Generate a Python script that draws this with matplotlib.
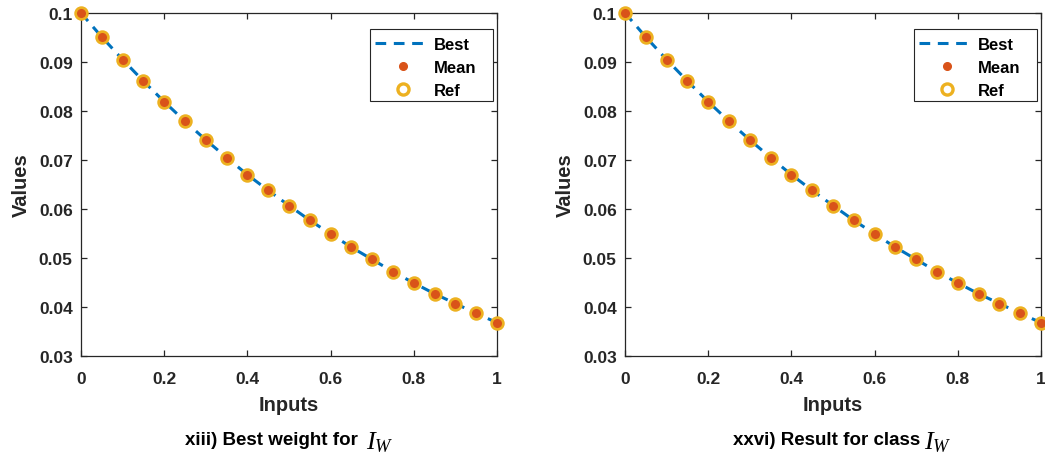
import matplotlib
matplotlib.use("Agg")
import matplotlib.pyplot as plt
from matplotlib.patches import Rectangle

plt.rcParams['font.family'] = ['Liberation Sans', 'DejaVu Sans']
plt.rcParams['mathtext.fontset'] = 'custom'
plt.rcParams['mathtext.it'] = 'Liberation Serif:italic'
plt.rcParams['mathtext.rm'] = 'Liberation Serif'

inputs = [0.0, 0.05, 0.1, 0.15, 0.2, 0.25, 0.3, 0.35, 0.4, 0.45, 0.5,
          0.55, 0.6, 0.65, 0.7, 0.75, 0.8, 0.85, 0.9, 0.95, 1.0]
best = [0.1, 0.0951, 0.0905, 0.0861, 0.0819, 0.0779, 0.0741, 0.0705, 0.0670, 0.0638, 0.0607,
        0.0577, 0.0549, 0.0522, 0.0497, 0.0472, 0.0449, 0.0427, 0.0407, 0.0387, 0.0368]
mean = list(best)
ref = list(best)

captions = ["xiii) Best weight for", "xxvi) Result for class"]
xticks = [0, 0.2, 0.4, 0.6, 0.8, 1]
xticklabels = ['0', '0.2', '0.4', '0.6', '0.8', '1']
yticks = [0.03, 0.04, 0.05, 0.06, 0.07, 0.08, 0.09, 0.1]
yticklabels = ['0.03', '0.04', '0.05', '0.06', '0.07', '0.08', '0.09', '0.1']

fig = plt.figure(figsize=(10.45, 4.6), dpi=100)
dark = '#262626'
W, H = 1045, 460

lefts = [81, 625]
cap_x = [185, 733]
cap_gap = [6, 3]

for i in range(2):
    left = lefts[i] / W
    ax = fig.add_axes([left, 1 - 357 / H, 416 / W, 343 / H])
    ax.plot(inputs, best, '--', color='#0072BD', lw=2.2, dashes=(3.5, 2.5), label='Best', zorder=2)
    ax.plot(inputs, mean, 'o', color='#D95319', ms=5.5, label='Mean', zorder=4, clip_on=False)
    ax.plot(inputs, ref, 'o', mfc='none', mec='#EDB120', mew=2.4, ms=8, label='Ref',
            zorder=3, clip_on=False)
    ax.set_xlim(0, 1)
    ax.set_ylim(0.03, 0.1)
    ax.set_xticks(xticks)
    ax.set_xticklabels(xticklabels, fontweight='bold')
    ax.set_yticks(yticks)
    ax.set_yticklabels(yticklabels, fontweight='bold')
    ax.tick_params(direction='in', top=True, right=True, labelsize=12.5, colors=dark,
                   length=4, width=0.9)
    ax.tick_params(axis='x', pad=11)
    ax.tick_params(axis='y', pad=6)
    for s in ax.spines.values():
        s.set_color(dark)
        s.set_linewidth(0.9)
    ax.set_xlabel('Inputs', fontsize=14.5, fontweight='bold', color=dark, labelpad=6)
    ax.set_ylabel('Values', fontsize=14.5, fontweight='bold', color=dark, labelpad=6)

    # legend box drawn like matlab's: tight on the left, loose on the right
    ax.add_patch(Rectangle(((lefts[i] + 289) / W, 1 - 102 / H), 123 / W, 72 / H,
                           transform=fig.transFigure, facecolor='white', edgecolor=dark,
                           lw=0.8, zorder=5, clip_on=False))
    leg = ax.legend(loc='upper left', bbox_to_anchor=((lefts[i] + 294) / W, 1 - 37.5 / H),
                    bbox_transform=fig.transFigure, borderaxespad=0, borderpad=0,
                    prop={'size': 12, 'weight': 'bold'}, frameon=False,
                    handlelength=3.3, labelspacing=0.5, handletextpad=0.25)
    leg.set_zorder(6)

    t = fig.text(cap_x[i] / W, 1 - 445 / H, captions[i], ha='left', va='baseline',
                 fontsize=13.5, fontweight='bold', color='black')
    ax.annotate(r'$I_W$', xy=(1, 0), xycoords=t, xytext=(cap_gap[i], 0),
                textcoords='offset points', ha='left', va='baseline',
                fontsize=19, color='black')

fig.savefig('out.png', dpi=100)
